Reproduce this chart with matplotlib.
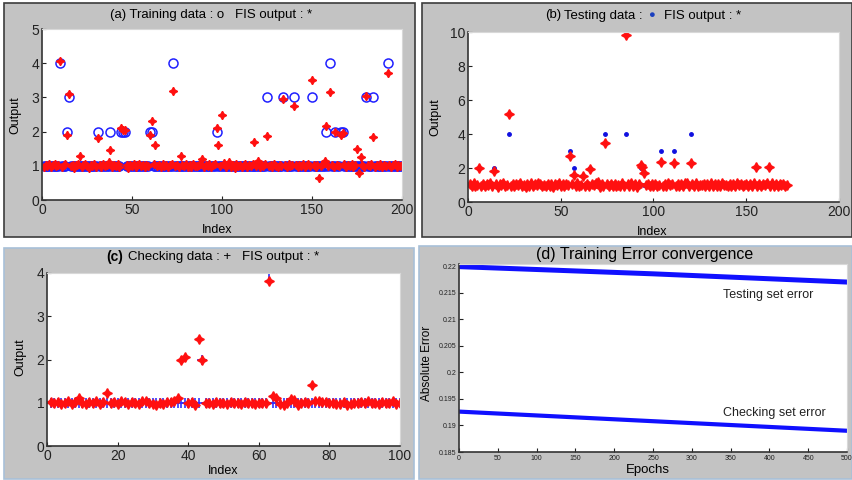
import numpy as np
import matplotlib
matplotlib.use('Agg')
import matplotlib.pyplot as plt
from matplotlib.patches import Rectangle

plt.rcParams['font.family'] = ['Liberation Sans', 'DejaVu Sans']

# ---- (a) training data ----
train_idx_special = [10, 14, 15, 31, 38, 44, 45, 46, 60, 61, 73, 97, 125, 134,
                     140, 150, 158, 160, 163, 166, 167, 180, 184, 192]
train_val_special = [4, 2, 3, 2, 2, 2, 2, 2, 2, 2, 4, 2, 3, 3,
                     3, 3, 2, 4, 2, 2, 2, 3, 3, 4]
train_fis = [
    0.97, 1.02, 0.98, 1.04, 0.96, 1.01, 1.05, 0.99, 1.03, 4.05, 0.97, 1.02, 1.06, 1.90, 3.10, 0.98, 1.03, 0.95, 1.01, 1.04,
    1.30, 0.97, 1.02, 1.05, 0.98, 0.94, 1.03, 1.00, 1.06, 0.97, 1.80, 1.02, 0.96, 1.04, 0.99, 1.01, 1.12, 1.45, 0.96, 1.03,
    0.98, 1.05, 0.97, 2.10, 2.05, 2.05, 1.02, 0.95, 1.03, 0.99, 1.04, 0.97, 1.01, 1.06, 0.98, 1.02, 0.96, 1.03, 1.00, 1.90,
    2.30, 1.04, 1.60, 0.98, 1.02, 0.97, 1.05, 0.99, 1.03, 0.96, 1.01, 1.04, 3.20, 0.98, 1.02, 0.97, 1.30, 1.03, 0.99, 1.05,
    0.97, 1.02, 0.96, 1.04, 1.00, 0.98, 1.03, 1.06, 1.20, 0.97, 1.02, 0.99, 1.04, 0.96, 1.01, 1.05, 2.10, 1.60, 0.98, 2.50,
    1.08, 0.96, 1.03, 1.10, 0.97, 1.02, 0.94, 1.05, 0.99, 1.03, 0.97, 1.01, 1.04, 0.96, 1.02, 0.98, 1.06, 1.70, 1.00, 1.15,
    0.97, 1.03, 0.99, 1.05, 1.87, 0.98, 1.02, 0.96, 1.04, 1.00, 0.97, 1.03, 0.99, 2.95, 1.02, 0.97, 1.05, 0.98, 1.01, 2.75,
    1.03, 0.96, 1.02, 0.99, 1.05, 0.97, 1.01, 1.04, 0.98, 3.50, 1.02, 0.97, 1.03, 0.65, 1.00, 1.05, 1.15, 2.15, 0.98, 3.15,
    1.03, 0.97, 2.00, 1.02, 0.99, 1.90, 1.95, 1.04, 0.97, 1.02, 0.98, 1.05, 0.96, 1.03, 1.50, 0.80, 1.25, 1.01, 0.97, 3.05,
    1.02, 0.98, 1.04, 1.85, 0.97, 1.03, 0.99, 1.05, 0.96, 1.02, 0.98, 3.70, 1.03, 0.97, 1.01, 1.04, 0.96, 1.02, 0.99, 1.03,
]

# ---- (b) testing data ----
test_idx_special = [6, 14, 22, 55, 57, 66, 74, 85, 93, 94, 104, 111, 120, 155, 162]
test_val_special = [2, 2, 4, 3, 2, 2, 4, 4, 2, 2, 3, 3, 4, 2, 2]
test_fis = [
    1.05, 0.95, 1.10, 0.92, 1.02, 2.00, 0.97, 1.08, 0.93, 1.04, 0.98, 1.12, 0.95, 1.85, 1.03, 0.91, 1.06, 0.99, 1.09, 0.94,
    1.01, 5.20, 0.96, 1.07, 0.93, 1.04, 0.98, 1.11, 0.95, 1.02, 0.90, 1.06, 0.97, 1.09, 0.94, 1.03, 0.99, 1.13, 1.05, 0.96,
    1.02, 0.93, 1.08, 0.97, 1.04, 0.91, 1.06, 0.99, 1.10, 0.95, 1.03, 0.92, 1.07, 0.98, 2.70, 1.05, 1.60, 0.96, 1.09, 0.94,
    1.02, 1.55, 0.97, 1.06, 0.93, 1.95, 1.04, 0.98, 1.11, 1.15, 0.88, 1.07, 0.95, 3.50, 1.03, 0.92, 1.08, 0.97, 1.05, 0.94,
    1.02, 0.96, 1.09, 0.93, 9.80, 1.04, 0.97, 1.10, 0.95, 1.03, 0.91, 1.06, 2.20, 2.05, 1.70, 0.98, 1.08, 0.94, 1.03, 0.96,
    1.07, 0.93, 1.02, 2.35, 0.97, 1.05, 0.92, 1.09, 0.98, 1.04, 2.30, 0.95, 1.08, 0.97, 1.03, 0.93, 1.10, 1.13, 0.96, 2.30,
    1.05, 0.97, 1.11, 0.94, 1.02, 0.98, 1.08, 0.93, 1.04, 0.96, 1.09, 0.92, 1.03, 0.97, 1.06, 0.95, 1.10, 0.98, 1.02, 0.94,
    1.07, 0.96, 1.03, 0.93, 1.09, 0.98, 1.05, 0.95, 1.02, 1.08, 0.94, 1.04, 0.97, 1.11, 2.05, 0.96, 1.06, 0.93, 1.03, 0.98,
    1.10, 2.05, 0.95, 1.14, 0.97, 1.06, 0.93, 1.08, 0.98, 1.04, 0.95, 1.02,
]

# ---- (c) checking data ----
chk_idx_special = [44, 63]
chk_val_special = [2, 4]
chk_fis = [
    1.02, 0.99, 1.01, 0.96, 1.00, 1.03, 0.98, 1.01, 1.12, 1.00, 0.97, 1.02, 0.99, 1.03, 0.98, 1.01, 1.22, 0.99, 1.02, 0.97,
    1.04, 1.01, 0.98, 1.02, 0.99, 0.97, 1.03, 1.05, 0.99, 0.97, 0.95, 1.00, 0.98, 1.01, 1.02, 1.04, 1.12, 1.98, 2.05, 0.99,
    1.01, 0.95, 2.48, 2.00, 0.99, 1.00, 0.98, 1.01, 0.99, 1.00, 0.98, 1.01, 0.99, 1.00, 0.98, 1.01, 0.99, 1.00, 0.98, 1.00,
    0.99, 1.00, 3.82, 1.15, 1.10, 0.97, 0.95, 1.00, 1.08, 1.06, 0.95, 0.99, 1.02, 1.00, 1.40, 1.03, 1.05, 1.02, 1.01, 0.99,
    1.00, 0.98, 0.97, 1.01, 0.95, 0.98, 1.00, 0.99, 1.01, 1.00, 1.03, 0.99, 1.00, 0.98, 1.01, 0.99, 1.00, 1.05, 0.98, 1.00,
]

# ---- (d) error curves ----
epochs = [1, 250, 500]
test_err = [0.2199, 0.21855, 0.2170]
chk_err = [0.1926, 0.1908, 0.1890]


def targets(n, idx, vals):
    t = np.ones(n)
    t[np.array(idx) - 1] = vals
    return t


W, H = 853, 480
fig = plt.figure(figsize=(W / 100, H / 100), dpi=100)
fig.patch.set_facecolor('white')


def box(l, t, r, b):
    return [l / W, 1 - b / H, (r - l) / W, (b - t) / H]


def panel(l, t, r, b, edge):
    fig.add_artist(Rectangle((l / W, 1 - b / H), (r - l) / W, (b - t) / H,
                             transform=fig.transFigure, facecolor='#c3c3c3',
                             edgecolor=edge, lw=1.2, zorder=0))


def txt(x, y, s, **kw):
    return fig.text(x / W, 1 - y / H, s, ha=kw.pop('ha', 'center'), va=kw.pop('va', 'center'), **kw)


def style(ax, fs):
    ax.set_facecolor('white')
    ax.tick_params(direction='in', length=3, labelsize=fs, colors='#222222', pad=2)
    for s in ['top', 'right']:
        ax.spines[s].set_color('#d8d8d8')
    for s in ['left', 'bottom']:
        ax.spines[s].set_color('#333333')
        ax.spines[s].set_linewidth(1.2)


panel(4, 3, 415, 237, '#3c3c3c')
panel(422, 3, 852, 237, '#3c3c3c')
panel(4, 248, 414, 479, '#a8c0d8')
panel(419, 246, 852, 479, '#a8c0d8')

star = (4, 1, 0)

# (a)
ax = fig.add_axes(box(42, 29, 402, 200))
n = len(train_fis)
x = np.arange(1, n + 1)
ax.plot(x, targets(n, train_idx_special, train_val_special), 'o', mfc='none', mec='#2020ff', mew=1.1, ms=6.5)
ax.plot(x, train_fis, ls='none', marker=star, color='#ff1010', ms=6)
ax.set_xlim(0, 200)
ax.set_ylim(0, 5)
ax.set_xticks([0, 50, 100, 150, 200])
ax.set_yticks([0, 1, 2, 3, 4, 5])
style(ax, 10)
txt(211, 15, '(a) Training data : o   FIS output : *', fontsize=9.5)
txt(15, 115, 'Output', rotation=90, fontsize=9)
txt(217, 230, 'Index', fontsize=9)

# (b)
ax = fig.add_axes(box(468, 32, 839, 202))
n = len(test_fis)
x = np.arange(1, n + 1)
ax.plot(x, targets(n, test_idx_special, test_val_special), '.', color='#1010e0', ms=5)
ax.plot(x, test_fis, ls='none', marker=star, color='#ff1010', ms=7)
ax.set_xlim(0, 200)
ax.set_ylim(0, 10)
ax.set_xticks([0, 50, 100, 150, 200])
ax.set_yticks([0, 2, 4, 6, 8, 10])
style(ax, 10)
txt(545, 15, '(b)', fontsize=9.5, ha='left')
txt(564, 16, 'Testing data :', fontsize=9.5, ha='left')
txt(651, 15, '\u25cf', fontsize=8, color='#1a3fbf')
txt(664, 16, 'FIS output : *', fontsize=9.5, ha='left')
txt(435, 117, 'Output', rotation=90, fontsize=9)
txt(652, 232, 'Index', fontsize=9)

# (c)
ax = fig.add_axes(box(47, 273, 400, 446))
n = len(chk_fis)
x = np.arange(1, n + 1)
ax.plot(x, targets(n, chk_idx_special, chk_val_special), '+', color='#3030ff', ms=7, mew=1.2)
ax.plot(x, chk_fis, ls='none', marker=star, color='#ff1010', ms=7)
ax.set_xlim(0, 100)
ax.set_ylim(0, 4)
ax.set_xticks([0, 20, 40, 60, 80, 100])
ax.set_yticks([0, 1, 2, 3, 4])
style(ax, 10)
txt(106, 257, '(c)', fontsize=10, fontweight='bold', ha='left')
txt(128, 257, 'Checking data : +   FIS output : *', fontsize=9.5, ha='left')
txt(20, 357, 'Output', rotation=90, fontsize=9)
txt(223, 471, 'Index', fontsize=9)

# (d)
ax = fig.add_axes(box(459, 264, 847, 452))
ax.plot(epochs, test_err, color='#1010ff', lw=3.6)
ax.plot(epochs, chk_err, color='#1010ff', lw=3.0)
ax.set_xlim(0, 500)
ax.set_ylim(0.185, 0.2204)
ax.set_xticks(np.arange(0, 501, 50))
ax.set_yticks([0.185, 0.19, 0.195, 0.2, 0.205, 0.21, 0.215, 0.22])
ax.set_yticklabels(['0.185', '0.19', '0.195', '0.2', '0.205', '0.21', '0.215', '0.22'])
style(ax, 5)
ax.text(340, 0.2145, 'Testing set error', fontsize=9, va='center', ha='left', color='#222222')
ax.text(340, 0.1924, 'Checking set error', fontsize=9, va='center', ha='left', color='#222222')
txt(645, 255, '(d) Training Error convergence', fontsize=11.5)
txt(427, 363, 'Absolute Error', rotation=90, fontsize=8.5)
txt(648, 470, 'Epochs', fontsize=9.5)

fig.savefig('out.png', dpi=100)
